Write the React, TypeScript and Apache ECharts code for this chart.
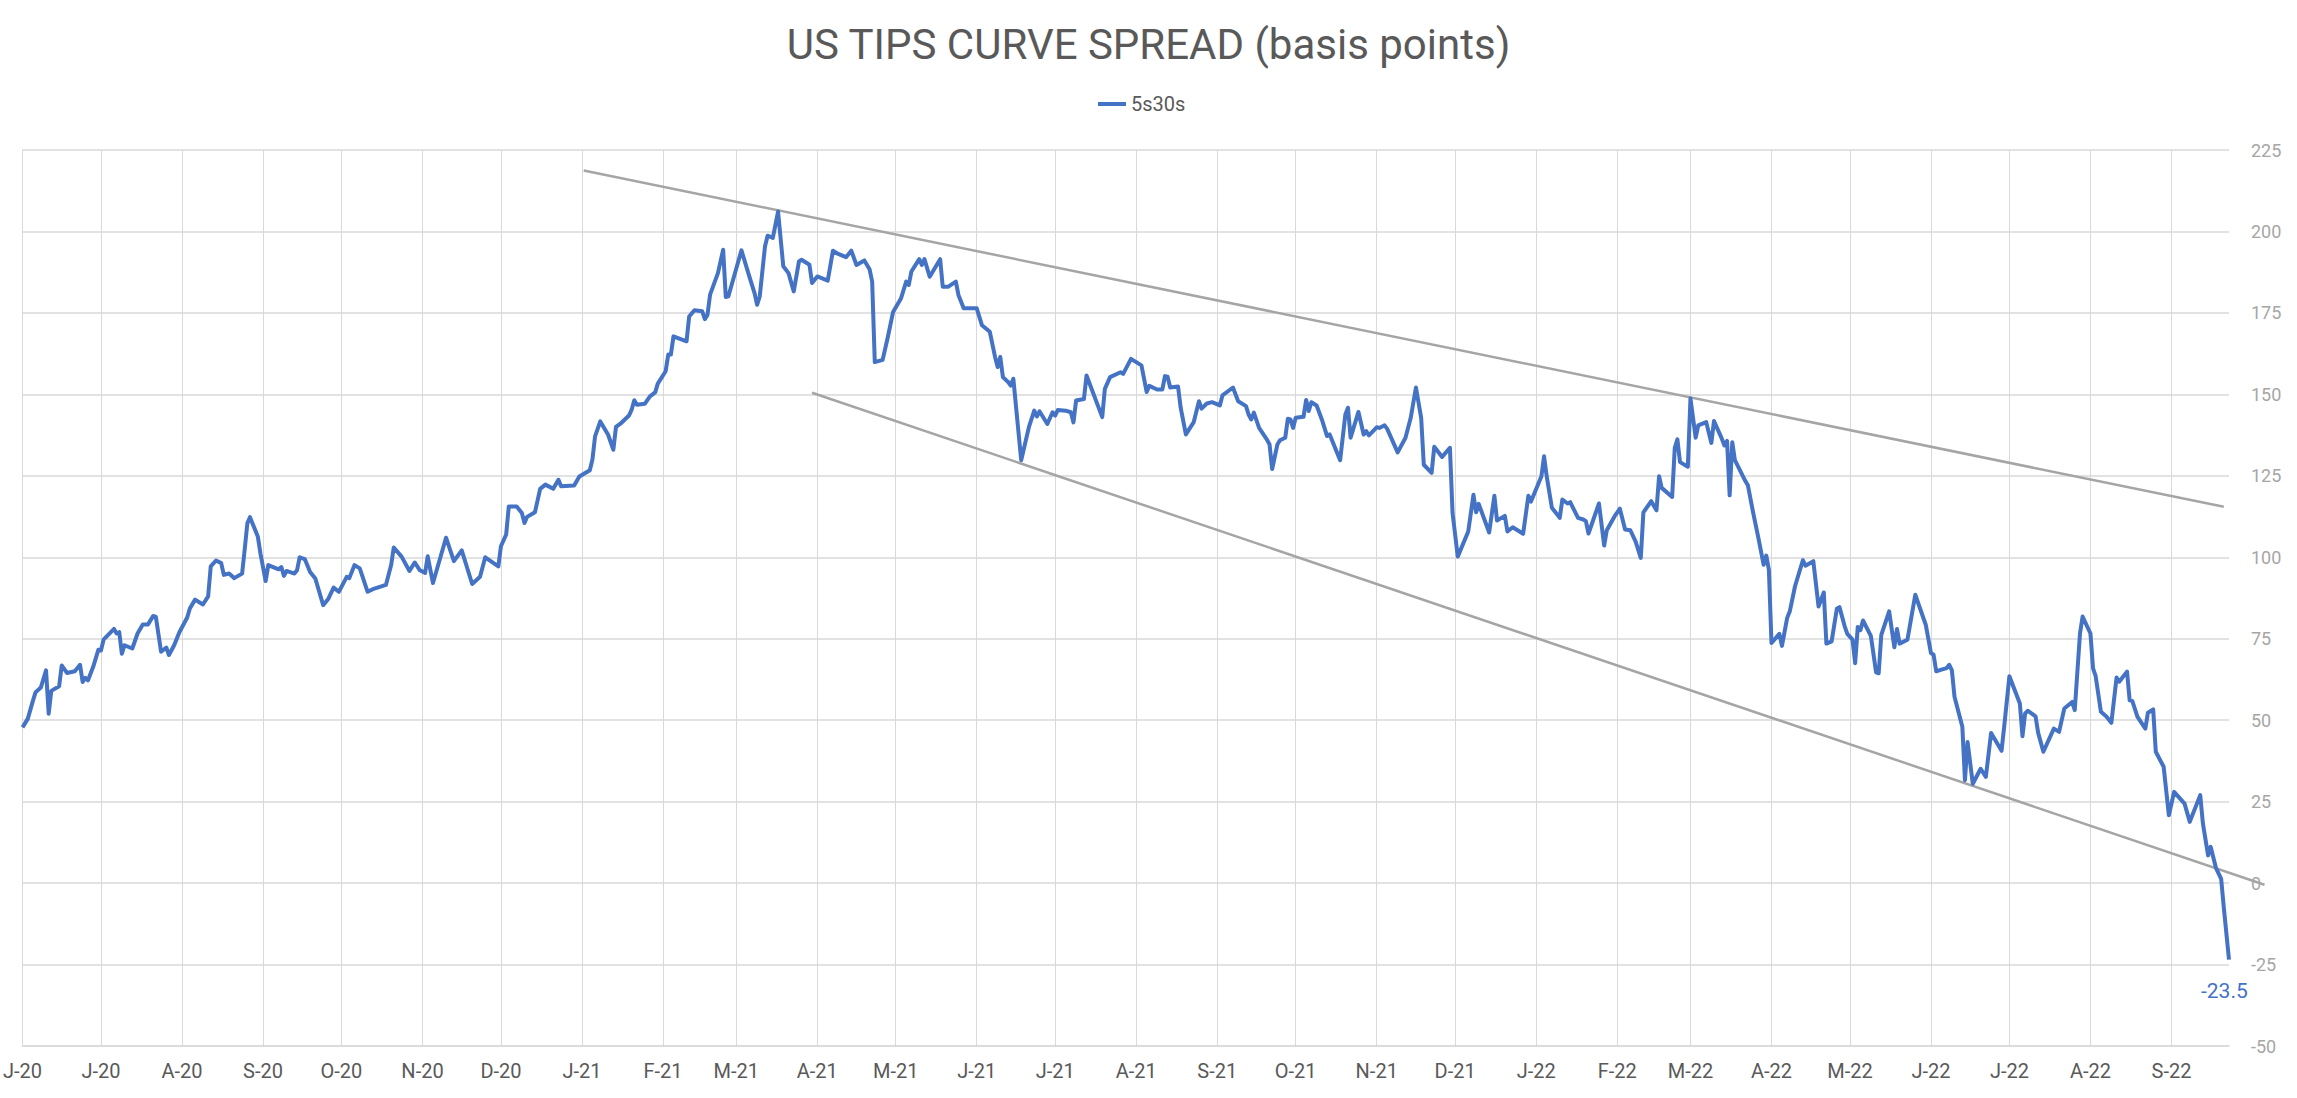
import React, { useEffect, useRef } from 'react';
import * as echarts from 'echarts';

const TITLE = 'US TIPS CURVE SPREAD (basis points)';
const SERIES_NAME = '5s30s';
const Y_MIN = -50;
const Y_MAX = 225;
const Y_STEP = 25;
const X_START = '2020-06-01';
const X_END = '2022-09-23';
const MONTH_LETTERS = ['J', 'F', 'M', 'A', 'M', 'J', 'J', 'A', 'S', 'O', 'N', 'D'];

const spread2020: [string, number][] = [
  ['2020-06-01', 47.8], ['2020-06-03', 50.4], ['2020-06-05', 56], ['2020-06-06', 58.6], ['2020-06-08', 60],
  ['2020-06-10', 65.3], ['2020-06-11', 52], ['2020-06-12', 59], ['2020-06-15', 60.4], ['2020-06-16', 66.8],
  ['2020-06-18', 64.5], ['2020-06-21', 65], ['2020-06-23', 67], ['2020-06-24', 61.7], ['2020-06-25', 63],
  ['2020-06-26', 62.2], ['2020-06-28', 66.3], ['2020-06-30', 71.6], ['2020-07-01', 71.4], ['2020-07-02', 74.7],
  ['2020-07-06', 78], ['2020-07-07', 76.6], ['2020-07-08', 77], ['2020-07-09', 70.4], ['2020-07-10', 73],
  ['2020-07-13', 72], ['2020-07-15', 76.6], ['2020-07-17', 79.4], ['2020-07-19', 79.4], ['2020-07-21', 82],
  ['2020-07-22', 81.7], ['2020-07-24', 71], ['2020-07-26', 72.3], ['2020-07-27', 70], ['2020-07-29', 73],
  ['2020-07-31', 77], ['2020-08-03', 81.5], ['2020-08-04', 84.3], ['2020-08-06', 87], ['2020-08-09', 85.5],
  ['2020-08-11', 88], ['2020-08-12', 97.2], ['2020-08-14', 99], ['2020-08-16', 98.2], ['2020-08-17', 94.6],
  ['2020-08-19', 95], ['2020-08-21', 93.6], ['2020-08-24', 95], ['2020-08-25', 102.5], ['2020-08-26', 110.4],
  ['2020-08-27', 112.3], ['2020-08-30', 106.4], ['2020-08-31', 101.2], ['2020-09-02', 92.7], ['2020-09-03', 97.6],
  ['2020-09-07', 96.3], ['2020-09-08', 97], ['2020-09-09', 94.3], ['2020-09-10', 95.8], ['2020-09-13', 95],
  ['2020-09-14', 96], ['2020-09-15', 100], ['2020-09-17', 99.4], ['2020-09-19', 95.5], ['2020-09-21', 93.5],
  ['2020-09-24', 85.3], ['2020-09-26', 87.3], ['2020-09-28', 90.7], ['2020-09-30', 89.4], ['2020-10-03', 94],
  ['2020-10-04', 93.6], ['2020-10-06', 97.6], ['2020-10-08', 96.6], ['2020-10-11', 89.4], ['2020-10-13', 90.2],
  ['2020-10-18', 91.5], ['2020-10-20', 97.6], ['2020-10-21', 103], ['2020-10-24', 100.2], ['2020-10-27', 95.8],
  ['2020-10-29', 98.4], ['2020-10-31', 96], ['2020-11-02', 95.2], ['2020-11-03', 100.3], ['2020-11-05', 92.1],
  ['2020-11-10', 106], ['2020-11-13', 98.8], ['2020-11-16', 102.1], ['2020-11-20', 91.8], ['2020-11-23', 94],
  ['2020-11-25', 100], ['2020-11-30', 97.2], ['2020-12-01', 103.4], ['2020-12-03', 107], ['2020-12-04', 115.6],
  ['2020-12-07', 115.6], ['2020-12-09', 113.6], ['2020-12-10', 110.5], ['2020-12-11', 112.4], ['2020-12-14', 113.8],
  ['2020-12-16', 121], ['2020-12-18', 122.3], ['2020-12-21', 121], ['2020-12-23', 123.8], ['2020-12-24', 121.8],
  ['2020-12-29', 122], ['2020-12-31', 124.8],
];

const spread2021: [string, number][] = [
  ['2021-01-04', 126.7], ['2021-01-05', 130], ['2021-01-06', 137.1], ['2021-01-08', 141.7], ['2021-01-11', 137.6],
  ['2021-01-13', 133], ['2021-01-14', 140], ['2021-01-16', 141.2], ['2021-01-19', 143.5], ['2021-01-20', 145.3],
  ['2021-01-21', 148.2], ['2021-01-22', 146.8], ['2021-01-25', 147.1], ['2021-01-27', 149.4], ['2021-01-29', 150.6],
  ['2021-01-30', 153.3], ['2021-02-02', 157.1], ['2021-02-03', 162.2], ['2021-02-04', 162.2], ['2021-02-05', 167.8],
  ['2021-02-10', 166.3], ['2021-02-11', 173.9], ['2021-02-13', 175.8], ['2021-02-16', 175.5], ['2021-02-17', 173.1],
  ['2021-02-18', 174.4], ['2021-02-19', 180.6], ['2021-02-22', 187.2], ['2021-02-24', 194.4], ['2021-02-25', 179.9],
  ['2021-02-26', 180.1], ['2021-03-03', 194.2], ['2021-03-06', 186.2], ['2021-03-08', 181.1], ['2021-03-09', 177.5],
  ['2021-03-10', 180.1], ['2021-03-12', 195.4], ['2021-03-13', 198.7], ['2021-03-15', 198], ['2021-03-17', 206.1],
  ['2021-03-19', 189.3], ['2021-03-21', 187.2], ['2021-03-23', 181.6], ['2021-03-25', 190.8], ['2021-03-26', 191.3],
  ['2021-03-29', 189.8], ['2021-03-30', 184.2], ['2021-04-01', 186.2], ['2021-04-05', 184.9], ['2021-04-07', 194.1],
  ['2021-04-09', 193.1], ['2021-04-12', 192.1], ['2021-04-14', 194.1], ['2021-04-16', 189.7], ['2021-04-19', 191.1],
  ['2021-04-21', 188.4], ['2021-04-22', 184.6], ['2021-04-23', 159.9], ['2021-04-26', 160.6], ['2021-04-28', 167.6],
  ['2021-04-30', 175.3], ['2021-05-03', 179.4], ['2021-05-05', 184.6], ['2021-05-06', 183.6], ['2021-05-07', 187.7],
  ['2021-05-10', 191.5], ['2021-05-11', 189.7], ['2021-05-12', 191.5], ['2021-05-14', 186.1], ['2021-05-18', 191.5],
  ['2021-05-19', 183], ['2021-05-21', 183], ['2021-05-24', 184.6], ['2021-05-25', 180.5], ['2021-05-27', 176.4],
  ['2021-06-01', 176.4], ['2021-06-03', 171.2], ['2021-06-06', 169.2], ['2021-06-08', 161.5], ['2021-06-09', 158.4],
  ['2021-06-10', 161.5], ['2021-06-11', 155.3], ['2021-06-13', 153.8], ['2021-06-14', 152.7], ['2021-06-15', 154.8],
  ['2021-06-18', 129.8], ['2021-06-21', 140.1], ['2021-06-23', 145], ['2021-06-24', 143.2], ['2021-06-25', 144.8],
  ['2021-06-28', 140.9], ['2021-06-30', 144.5], ['2021-07-01', 143.5], ['2021-07-02', 145.2], ['2021-07-05', 145],
  ['2021-07-07', 144.5], ['2021-07-08', 141.4], ['2021-07-09', 148.1], ['2021-07-12', 148.6], ['2021-07-13', 155.8],
  ['2021-07-19', 143], ['2021-07-20', 151.7], ['2021-07-22', 155.3], ['2021-07-26', 156.8], ['2021-07-27', 156.3],
  ['2021-07-30', 160.9], ['2021-08-03', 158.9], ['2021-08-05', 150.7], ['2021-08-06', 152.6], ['2021-08-09', 151.5],
  ['2021-08-11', 151.5], ['2021-08-12', 155.6], ['2021-08-13', 155.4], ['2021-08-14', 152.1], ['2021-08-17', 152.4],
  ['2021-08-18', 145.9], ['2021-08-20', 137.7], ['2021-08-23', 141.5], ['2021-08-25', 147.9], ['2021-08-26', 145.6],
  ['2021-08-28', 147.2], ['2021-08-30', 147.6], ['2021-09-02', 146.6], ['2021-09-03', 149.7], ['2021-09-07', 152.1],
  ['2021-09-09', 147.9], ['2021-09-12', 146.4], ['2021-09-13', 143.8], ['2021-09-14', 142.3], ['2021-09-15', 144.4],
  ['2021-09-17', 139.7], ['2021-09-20', 136.1], ['2021-09-21', 134.6], ['2021-09-22', 127.1], ['2021-09-24', 134.6],
  ['2021-09-25', 135.9], ['2021-09-27', 136.7], ['2021-09-28', 142.5], ['2021-09-29', 142.3], ['2021-09-30', 139.7],
  ['2021-10-01', 142.8], ['2021-10-04', 143.1], ['2021-10-05', 148.3], ['2021-10-06', 144.9], ['2021-10-07', 147.6],
  ['2021-10-09', 146.6], ['2021-10-11', 142.3], ['2021-10-13', 137.2], ['2021-10-14', 137.7], ['2021-10-18', 129.8],
  ['2021-10-20', 143.8], ['2021-10-21', 145.9], ['2021-10-22', 136.7], ['2021-10-25', 144.6], ['2021-10-27', 137.7],
  ['2021-10-28', 138.7], ['2021-10-29', 137.4], ['2021-11-01', 139.9], ['2021-11-02', 139.7], ['2021-11-04', 140.5],
  ['2021-11-05', 139.4], ['2021-11-09', 132.2], ['2021-11-12', 136.7], ['2021-11-14', 142.8], ['2021-11-16', 152.1],
  ['2021-11-18', 142.8], ['2021-11-19', 128.4], ['2021-11-22', 125.9], ['2021-11-23', 133.9], ['2021-11-26', 130.8],
  ['2021-11-29', 133.6], ['2021-11-30', 113.6], ['2021-12-02', 100.2], ['2021-12-06', 107.9], ['2021-12-08', 119.2],
  ['2021-12-09', 113.8], ['2021-12-10', 116.4], ['2021-12-14', 107.6], ['2021-12-16', 118.9], ['2021-12-17', 111.3],
  ['2021-12-20', 112.7], ['2021-12-21', 107.9], ['2021-12-23', 109.2], ['2021-12-27', 107.2], ['2021-12-29', 118.9],
  ['2021-12-30', 117.1],
];

const spread2022: [string, number][] = [
  ['2022-01-03', 124.9], ['2022-01-04', 131], ['2022-01-05', 124.9], ['2022-01-07', 115.2], ['2022-01-10', 112.1],
  ['2022-01-11', 117.7], ['2022-01-13', 116.5], ['2022-01-14', 116.9], ['2022-01-17', 112.1], ['2022-01-19', 111.6],
  ['2022-01-20', 111.1], ['2022-01-21', 107.3], ['2022-01-25', 116.5], ['2022-01-27', 103.6], ['2022-01-28', 108.3],
  ['2022-01-31', 112.6], ['2022-02-02', 114.9], ['2022-02-04', 108.5], ['2022-02-06', 108.3], ['2022-02-08', 104.9],
  ['2022-02-10', 99.8], ['2022-02-11', 113.8], ['2022-02-14', 117.2], ['2022-02-16', 114.4], ['2022-02-17', 124.9],
  ['2022-02-18', 121.3], ['2022-02-22', 118.5], ['2022-02-23', 133.6], ['2022-02-24', 136.2], ['2022-02-25', 129.2],
  ['2022-02-28', 127.8], ['2022-03-01', 148.7], ['2022-03-03', 136.7], ['2022-03-04', 140.5], ['2022-03-07', 141.5],
  ['2022-03-09', 135.1], ['2022-03-10', 141.8], ['2022-03-13', 136.4], ['2022-03-14', 134.3], ['2022-03-15', 135.7],
  ['2022-03-16', 119], ['2022-03-17', 135.3], ['2022-03-18', 129.8], ['2022-03-22', 123.4], ['2022-03-23', 122],
  ['2022-03-25', 113.6], ['2022-03-27', 105.9], ['2022-03-29', 97.7], ['2022-03-30', 100.5], ['2022-03-31', 96.2],
  ['2022-04-01', 73.7], ['2022-04-04', 76.5], ['2022-04-05', 72.8], ['2022-04-07', 81.4], ['2022-04-08', 83.4],
  ['2022-04-10', 91.1], ['2022-04-13', 99.1], ['2022-04-14', 97.4], ['2022-04-17', 98.8], ['2022-04-19', 84.9],
  ['2022-04-21', 89.2], ['2022-04-22', 73.5], ['2022-04-24', 74.2], ['2022-04-26', 84.2], ['2022-04-27', 84.7],
  ['2022-04-29', 78.8], ['2022-04-30', 76.5], ['2022-05-02', 74.7], ['2022-05-03', 67.5], ['2022-05-04', 78.6],
  ['2022-05-05', 77.6], ['2022-05-06', 80.6], ['2022-05-09', 75.9], ['2022-05-11', 64.7], ['2022-05-12', 64.4],
  ['2022-05-13', 76.2], ['2022-05-16', 83.4], ['2022-05-18', 72.4], ['2022-05-19', 78], ['2022-05-20', 73.5],
  ['2022-05-23', 74.7], ['2022-05-26', 88.5], ['2022-05-30', 79.3], ['2022-06-01', 70.6], ['2022-06-02', 70.1],
  ['2022-06-03', 65], ['2022-06-05', 65.5], ['2022-06-07', 66], ['2022-06-08', 67], ['2022-06-09', 65.3],
  ['2022-06-10', 57.2], ['2022-06-13', 48], ['2022-06-14', 31.6], ['2022-06-15', 43.3], ['2022-06-17', 30.5],
  ['2022-06-20', 35.1], ['2022-06-22', 32.6], ['2022-06-24', 46.1], ['2022-06-28', 40.6], ['2022-06-29', 48],
  ['2022-07-01', 63.5], ['2022-07-05', 55.1], ['2022-07-06', 45.1], ['2022-07-07', 52], ['2022-07-08', 52.9],
  ['2022-07-11', 51.2], ['2022-07-12', 46.1], ['2022-07-14', 40.3], ['2022-07-18', 47.4], ['2022-07-20', 46.4],
  ['2022-07-22', 53.6], ['2022-07-25', 55.6], ['2022-07-26', 53.1], ['2022-07-28', 76.6], ['2022-07-29', 81.8],
  ['2022-08-01', 76.6], ['2022-08-02', 65.9], ['2022-08-03', 63.5], ['2022-08-05', 52.6], ['2022-08-07', 51.2],
  ['2022-08-09', 49.2], ['2022-08-11', 63.1], ['2022-08-12', 61.8], ['2022-08-15', 64.9], ['2022-08-16', 56.1],
  ['2022-08-17', 55.9], ['2022-08-19', 51], ['2022-08-22', 47.4], ['2022-08-23', 52.3], ['2022-08-25', 53.3],
  ['2022-08-26', 40.3], ['2022-08-29', 35.7], ['2022-08-31', 20.8], ['2022-09-02', 28], ['2022-09-06', 24.4],
  ['2022-09-08', 18.8], ['2022-09-12', 27], ['2022-09-13', 18.4], ['2022-09-15', 8.5], ['2022-09-16', 11.1],
  ['2022-09-18', 4.7], ['2022-09-20', 1.3], ['2022-09-21', -7.4], ['2022-09-23', -23.5],
];

// Hand-drawn trend channel: [start date, start value, end date, end value]
const upperTrend: [string, number, string, number] = ['2021-01-01T16:00:00', 218.7, '2022-09-21T00:00:00', 115.5];
const lowerTrend: [string, number, string, number] = ['2021-03-30T00:00:00', 150.5, '2022-10-06T14:00:00', -0.5];

const toTs = (s: string) => Date.parse(s.length === 10 ? s + 'T00:00:00Z' : s + 'Z');

export default function App() {
  const ref = useRef<HTMLDivElement>(null);

  useEffect(() => {
    if (!ref.current) return;
    const chart = echarts.init(ref.current, null, { renderer: 'svg' });

    const all = [...spread2020, ...spread2021, ...spread2022];
    const lineData = all.map(([d, v]) => [toTs(d), v]);

    const startTs = toTs(X_START);
    const endTs = toTs(X_END);
    const monthTicks: number[] = [];
    for (let y = 2020, m = 5; ; m++) {
      if (m > 11) { m = 0; y++; }
      const t = Date.UTC(y, m, 1);
      if (t > endTs) break;
      monthTicks.push(t);
    }

    const fmt = (v: number) => {
      const d = new Date(v);
      if (d.getUTCDate() !== 1) return '';
      return MONTH_LETTERS[d.getUTCMonth()] + '-' + String(d.getUTCFullYear()).slice(2);
    };

    const trendData = [upperTrend, lowerTrend].map(([d1, v1, d2, v2]) => [toTs(d1), v1, toTs(d2), v2]);

    chart.setOption({
      animation: false,
      backgroundColor: '#ffffff',
      title: {
        text: TITLE,
        left: 'center',
        top: 18,
        textStyle: { fontFamily: 'Roboto', fontSize: 42, fontWeight: 'normal', color: '#595959' },
      },
      legend: {
        data: [SERIES_NAME],
        left: 1093,
        top: 89,
        icon: 'rect',
        itemWidth: 28,
        itemHeight: 4,
        itemGap: 10,
        textStyle: { fontFamily: 'Roboto', fontSize: 20, color: '#595959' },
      },
      grid: { left: 22, right: 68, top: 150, bottom: 52 },
      xAxis: {
        type: 'value',
        min: startTs,
        max: endTs,
        scale: true,
        axisLine: { show: true, onZero: false, lineStyle: { color: '#d9d9d9', width: 1.5 } },
        axisTick: { show: false, customValues: monthTicks },
        axisLabel: {
          customValues: monthTicks,
          formatter: fmt,
          color: '#595959',
          fontFamily: 'Roboto',
          fontSize: 20,
          margin: 15,
          hideOverlap: false,
        },
        splitLine: { show: true, lineStyle: { color: '#d9d9d9', width: 1 } },
      },
      yAxis: {
        type: 'value',
        position: 'right',
        min: Y_MIN,
        max: Y_MAX,
        interval: Y_STEP,
        axisLine: { show: false },
        axisTick: { show: false },
        axisLabel: { color: '#a6a6a6', fontFamily: 'Roboto', fontSize: 18, margin: 22 },
        splitLine: { lineStyle: { color: '#d9d9d9', width: 1.5 } },
      },
      series: [
        {
          name: 'Trend channel',
          type: 'custom',
          data: trendData,
          encode: { x: [0, 2], y: [1, 3] },
          clip: false,
          silent: true,
          z: 2,
          renderItem: (params: any, api: any) => {
            const p1 = api.coord([api.value(0), api.value(1)]);
            const p2 = api.coord([api.value(2), api.value(3)]);
            return {
              type: 'line',
              shape: { x1: p1[0], y1: p1[1], x2: p2[0], y2: p2[1] },
              style: { stroke: '#a5a5a5', lineWidth: 2.5, fill: 'none' },
            };
          },
        },
        {
          name: SERIES_NAME,
          type: 'line',
          data: lineData,
          symbol: 'none',
          showSymbol: false,
          clip: false,
          color: '#4472C4',
          lineStyle: { color: '#4472C4', width: 4, join: 'round' },
          z: 3,
          endLabel: {
            show: true,
            formatter: (p: any) => Number(p.value[1]).toFixed(1),
            color: '#4472C4',
            fontFamily: 'Roboto',
            fontSize: 21,
            offset: [-36, 31],
          },
        },
      ],
    });

    return () => chart.dispose();
  }, []);

  return (
    <div
      ref={ref}
      style={{ position: 'fixed', left: 0, top: 0, width: 2297, height: 1098, background: '#ffffff' }}
    />
  );
}
